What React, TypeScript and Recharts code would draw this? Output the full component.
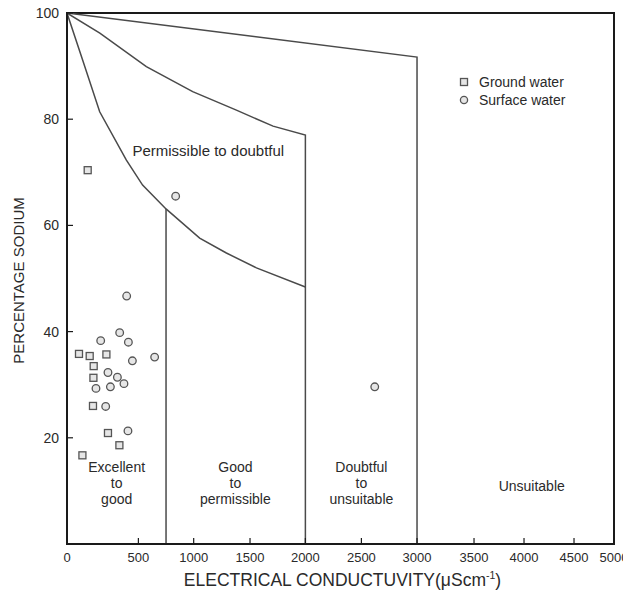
import React from 'react';
import { ComposedChart, XAxis, YAxis, Line, Scatter, ReferenceArea, ReferenceDot, Legend } from 'recharts';

// ---------- data ----------
const groundEC = [145, 84, 159, 276, 187, 185, 182, 287, 367, 108];
const groundNa = [70.4, 35.8, 35.4, 35.7, 33.5, 31.3, 26.0, 20.9, 18.6, 16.7];

const surfaceEC = [369, 236, 430, 458, 647, 287, 353, 399, 203, 304, 271, 427, 418, 837, 2620];
const surfaceNa = [39.8, 38.3, 38.0, 34.5, 35.2, 32.3, 31.4, 30.2, 29.3, 29.6, 25.9, 21.3, 46.7, 65.5, 29.6];

// Wilcox boundaries
const outerEC = [0, 3000, 3000];
const outerNa = [100, 91.7, 0];
const upperCurveEC = [0, 230, 572, 991, 1379, 1708, 2000, 2000];
const upperCurveNa = [100, 96.2, 89.9, 85.2, 81.7, 78.7, 77.0, 0];
const lowerCurveEC = [0, 110, 229, 416, 538, 750, 1053, 1290, 1558, 2000];
const lowerCurveNa = [100, 91.1, 81.4, 72.3, 67.6, 63.1, 57.6, 54.8, 52.0, 48.4];
const line750EC = [750, 750];
const line750Na = [63.1, 0];

// zone labels
const zoneText = [['Permissible to doubtful'], ['Excellent', 'to', 'good'], ['Good', 'to', 'permissible'], ['Doubtful', 'to', 'unsuitable'], ['Unsuitable']];
const zoneEC = [1130, 348, 1370, 2500, 4077];
const zoneNa = [74.0, 11.5, 11.5, 11.5, 10.9];
const zoneFont = [15, 14, 14, 14, 14];

// axis ticks
const xTicks = [0, 500, 1000, 1500, 2000, 2500, 3000, 3500, 4000, 4500, 5000];
const yTicks = [20, 40, 60, 80, 100];

// the original figure's x axis is not evenly spaced: fraction of axis length at each tick
const xTickFractions = [0, 0.1305, 0.2316, 0.3346, 0.4358, 0.5382, 0.6399, 0.7441, 0.8355, 0.9269, 1];

const zip = (xs: number[], ys: number[]) => xs.map((x, i) => ({ ec: x, na: ys[i] }));

const groundData = zip(groundEC, groundNa);
const surfaceData = zip(surfaceEC, surfaceNa);
const outerData = zip(outerEC, outerNa);
const upperData = zip(upperCurveEC, upperCurveNa);
const lowerData = zip(lowerCurveEC, lowerCurveNa);
const l750Data = zip(line750EC, line750Na);

function piecewiseScale(): any {
  let dom: number[] = [0, 5000];
  let rng: number[] = [0, 1];
  const toFrac = (v: number) => {
    const k = xTicks;
    const f = xTickFractions;
    if (v <= k[0]) return f[0] + ((v - k[0]) * (f[1] - f[0])) / (k[1] - k[0]);
    for (let i = 1; i < k.length; i++) {
      if (v <= k[i]) return f[i - 1] + ((v - k[i - 1]) * (f[i] - f[i - 1])) / (k[i] - k[i - 1]);
    }
    const n = k.length - 1;
    return f[n] + ((v - k[n]) * (f[n] - f[n - 1])) / (k[n] - k[n - 1]);
  };
  const fromFrac = (t: number) => {
    const k = xTicks;
    const f = xTickFractions;
    for (let i = 1; i < f.length; i++) {
      if (t <= f[i]) return k[i - 1] + ((t - f[i - 1]) * (k[i] - k[i - 1])) / (f[i] - f[i - 1]);
    }
    return k[k.length - 1];
  };
  const scale: any = (v: number) => rng[0] + toFrac(v) * (rng[1] - rng[0]);
  scale.domain = function (d?: number[]) {
    if (d === undefined) return dom.slice();
    dom = d.slice();
    return scale;
  };
  scale.range = function (r?: number[]) {
    if (r === undefined) return rng.slice();
    rng = r.slice();
    return scale;
  };
  scale.copy = () => piecewiseScale().domain(dom).range(rng);
  scale.ticks = () => xTicks.slice();
  scale.invert = (px: number) => fromFrac((px - rng[0]) / (rng[1] - rng[0]));
  return scale;
}

const FONT = '"Liberation Sans", Arial, Helvetica, sans-serif';
const LINE = '#4a4a4a';
const TXT = '#2a2a2a';

const SquareShape = (p: any) => (
  <rect x={p.cx - 3.5} y={p.cy - 3.5} width={7} height={7} fill="#e6e6e6" stroke="#555" strokeWidth={1.3} />
);
const CircleShape = (p: any) => <circle cx={p.cx} cy={p.cy} r={3.8} fill="#e6e6e6" stroke="#555" strokeWidth={1.3} />;

const makeZoneLabel = (lines: string[], size: number) => (props: any) => {
  const vb = props.viewBox || { x: 0, y: 0, width: 0, height: 0 };
  const cx = vb.x + (vb.width || 0) / 2;
  const cy = vb.y + (vb.height || 0) / 2;
  const lh = 16;
  const start = cy - ((lines.length - 1) * lh) / 2 + 5;
  return (
    <text textAnchor="middle" fontFamily={FONT} fontSize={size} fill={TXT}>
      {lines.map((l, i) => (
        <tspan key={i} x={cx} y={start + i * lh}>
          {l}
        </tspan>
      ))}
    </text>
  );
};

const XTitle = (props: any) => {
  const vb = props.viewBox;
  return (
    <text x={vb.x + vb.width / 2 + 2} y={vb.y + 42} textAnchor="middle" fontFamily={FONT} fontSize={17.5} fill={TXT}>
      ELECTRICAL CONDUCTUVITY(μScm
      <tspan fontSize={10.5} dy={-7}>
        -1
      </tspan>
      <tspan dy={7}>)</tspan>
    </text>
  );
};

const YTitle = (props: any) => {
  const vb = props.viewBox;
  const cx = 15.5;
  const cy = vb.y + vb.height / 2 + 2;
  return (
    <text x={cx} y={cy} transform={`rotate(-90 ${cx} ${cy})`} textAnchor="middle" fontFamily={FONT} fontSize={15} fill={TXT}>
      PERCENTAGE SODIUM
    </text>
  );
};

const LegendContent = (props: any) => (
  <div style={{ fontFamily: FONT, fontSize: 14, color: TXT }}>
    {(props.payload || [])
      .filter((e: any) => e.type === 'square' || e.type === 'circle')
      .map((e: any, i: number) => (
        <div key={i} style={{ display: 'flex', alignItems: 'center', height: 18, whiteSpace: 'nowrap' }}>
          <svg width={14} height={14} style={{ display: 'block' }}>
            {e.type === 'square' ? (
              <rect x={3.5} y={3.5} width={7} height={7} fill="#e6e6e6" stroke="#555" strokeWidth={1.3} />
            ) : (
              <circle cx={7} cy={7} r={3.6} fill="#e6e6e6" stroke="#555" strokeWidth={1.3} />
            )}
          </svg>
          <span style={{ marginLeft: 8 }}>{e.value}</span>
        </div>
      ))}
  </div>
);

export default function App() {
  const xScale = React.useMemo(() => piecewiseScale(), []);
  return (
    <div style={{ marginTop: -8 }}>
      <ComposedChart width={623} height={597} margin={{ top: 13, right: 17, left: 0, bottom: 0 }}>
        <XAxis
          type="number"
          dataKey="ec"
          domain={[0, 5000]}
          scale={xScale}
          ticks={xTicks}
          interval={0}
          allowDataOverflow
          height={53}
          tickSize={-6}
          tickMargin={15}
          tick={{ fontFamily: FONT, fontSize: 13, fill: TXT }}
          axisLine={{ stroke: '#1a1a1a', strokeWidth: 2 }}
          tickLine={{ stroke: '#1a1a1a', strokeWidth: 1.2 }}
          label={{ content: XTitle }}
        />
        <YAxis
          type="number"
          dataKey="na"
          domain={[0, 100]}
          ticks={yTicks}
          interval={0}
          allowDataOverflow
          width={59}
          tickSize={-6}
          tickMargin={14}
          tick={{ fontFamily: FONT, fontSize: 14, fill: TXT }}
          axisLine={{ stroke: '#1a1a1a', strokeWidth: 2 }}
          tickLine={{ stroke: '#1a1a1a', strokeWidth: 1.2 }}
          label={{ content: YTitle }}
        />
        <ReferenceArea x1={0} x2={5000} y1={0} y2={100} fill="none" stroke="#1a1a1a" strokeWidth={2} ifOverflow="visible" />
        <Line data={outerData} dataKey="na" type="linear" stroke={LINE} strokeWidth={1.5} dot={false} isAnimationActive={false} legendType="none" />
        <Line data={upperData} dataKey="na" type="linear" stroke={LINE} strokeWidth={1.5} dot={false} isAnimationActive={false} legendType="none" />
        <Line data={lowerData} dataKey="na" type="linear" stroke={LINE} strokeWidth={1.5} dot={false} isAnimationActive={false} legendType="none" />
        <Line data={l750Data} dataKey="na" type="linear" stroke={LINE} strokeWidth={1.5} dot={false} isAnimationActive={false} legendType="none" />
        <Scatter name="Ground water" data={groundData} dataKey="na" shape={SquareShape} legendType="square" isAnimationActive={false} />
        <Scatter name="Surface water" data={surfaceData} dataKey="na" shape={CircleShape} legendType="circle" isAnimationActive={false} />
        {zoneText.map((lines, i) => (
          <ReferenceDot
            key={i}
            x={zoneEC[i]}
            y={zoneNa[i]}
            r={0}
            fill="none"
            stroke="none"
            ifOverflow="visible"
            label={{ content: makeZoneLabel(lines, zoneFont[i]) }}
          />
        ))}
        <Legend
          layout="vertical"
          align="center"
          verticalAlign="middle"
          wrapperStyle={{ top: 73, left: 449, width: 160 }}
          content={LegendContent}
        />
      </ComposedChart>
    </div>
  );
}
